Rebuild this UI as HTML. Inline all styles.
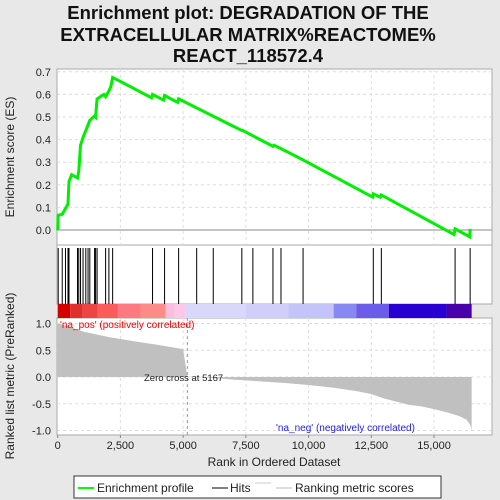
<!DOCTYPE html>
<html><head><meta charset="utf-8">
<style>
body{margin:0;background:#e8e8e8;font-family:"Liberation Sans",sans-serif;}
svg{display:block}
</style></head><body>
<svg width="500" height="500" viewBox="0 0 500 500">
<rect x="0" y="0" width="500" height="500" fill="#e8e8e8"/>
<g font-weight="bold" font-size="18.5" text-anchor="middle" fill="#111">
<text x="248" y="19">Enrichment plot: DEGRADATION OF THE</text>
<text x="248" y="41">EXTRACELLULAR MATRIX%REACTOME%</text>
<text x="248" y="62">REACT_118572.4</text>
</g>
<rect x="57" y="69" width="435" height="176" fill="#fff" stroke="#aaa"/>
<rect x="57" y="245" width="435" height="59" fill="#fff" stroke="#aaa"/>
<rect x="57" y="318" width="435" height="117" fill="#fff" stroke="#aaa"/>
<g id="grid"></g>
<g id="cbar"></g>
<g id="metric"></g>
<g id="hits"></g>
<g id="es"></g>
<g id="axes" font-size="11" fill="#222"></g>
<text x="14" y="157" transform="rotate(-90 14 157)" text-anchor="middle" font-size="12" fill="#222">Enrichment score (ES)</text>
<text x="14" y="376" transform="rotate(-90 14 376)" text-anchor="middle" font-size="12" fill="#222">Ranked list metric (PreRanked)</text>
<text x="274" y="466" text-anchor="middle" font-size="12" fill="#222">Rank in Ordered Dataset</text>
<text x="60" y="328" font-size="10" fill="#e00">'na_pos' (positively correlated)</text>
<text x="276" y="431" font-size="10" fill="#22d">'na_neg' (negatively correlated)</text>
<text x="144" y="381" font-size="9.5" fill="#222">Zero cross at 5167</text>
<g>
<rect x="74" y="476" width="367" height="22" fill="#fff" stroke="#333"/>
<line x1="78" y1="488" x2="94" y2="488" stroke="#0f0" stroke-width="2"/>
<text x="97" y="492" font-size="12" fill="#222">Enrichment profile</text>
<line x1="212" y1="488" x2="228" y2="488" stroke="#000"/>
<text x="230" y="492" font-size="12" fill="#222">Hits</text>
<line x1="255" y1="483" x2="271" y2="483" stroke="#ccc"/>
<line x1="276" y1="488" x2="292" y2="488" stroke="#bbb"/>
<text x="295" y="492" font-size="12" fill="#222">Ranking metric scores</text>
</g>
</svg>
<script>
const hitRanks=[20,180,310,410,450,790,840,910,1010,1120,1210,1280,1470,1510,1570,1910,2040,2190,3780,4260,4820,5540,6200,7340,7780,8580,8900,9780,12580,12900,15840,16440];
const esRanks=[0,20,180,310,410,450,560,790,840,910,1010,1120,1210,1280,1470,1510,1570,1840,1910,2040,2120,2190,3740,3780,4220,4260,4780,4820,7340,7380,8580,8620,8900,9780,12560,12580,12860,12900,15800,15840,16420,16440];
const esValues=[0,0.065,0.07,0.095,0.115,0.215,0.245,0.23,0.26,0.375,0.41,0.44,0.465,0.485,0.505,0.5,0.58,0.6,0.59,0.615,0.635,0.675,0.585,0.6,0.575,0.595,0.565,0.58,0.44,0.44,0.37,0.375,0.36,0.31,0.145,0.16,0.145,0.155,-0.02,0.005,-0.03,0.005];
const metricRanks=[0,400,1000,2000,3000,4000,5000,5167,6000,7000,8000,9000,10000,11000,12000,12500,13000,14000,14500,15000,15500,16000,16300,16450,16500];
const metricValues=[1.0,0.95,0.85,0.75,0.67,0.6,0.52,0.0,-0.01,-0.05,-0.08,-0.11,-0.15,-0.2,-0.27,-0.32,-0.4,-0.52,-0.55,-0.6,-0.66,-0.73,-0.8,-0.9,-1.0];
const esTicks=[0,0.1,0.2,0.3,0.4,0.5,0.6,0.7];
const metricTicks=[-1.0,-0.5,0.0,0.5,1.0];
const xTicks=[0,2500,5000,7500,10000,12500,15000];
const xTickLabels=["0","2,500","5,000","7,500","10,000","12,500","15,000"];
const barRanks=[0,500,1000,1600,2400,3300,4300,4650,5100,7500,9200,11000,11900,13200,15500,16500];
const barColors=["#d40000","#e0302e","#eb4545","#fa5c5c","#fe7a80","#fd8c88","#fdbedd","#fdc8e8","#d8d8fa","#cfcffa","#c4c4f8","#8888f5","#6c5ceb","#2800d0","#4a00a8"];
const X=r=>57.7+r*0.025088;
const YE=v=>230-v*226;
const YM=v=>377-v*53.5;
const NS="http://www.w3.org/2000/svg";
function mk(parent,tag,attrs){const e=document.createElementNS(NS,tag);for(const k in attrs)e.setAttribute(k,attrs[k]);document.getElementById(parent).appendChild(e);return e;}
xTicks.forEach(t=>{if(t===0)return;
 let g=mk('grid','line',{x1:X(t),x2:X(t),y1:69,y2:245,stroke:'#ddd','stroke-dasharray':'3,3'});
 
 
 let g2=mk('grid','line',{x1:X(t),x2:X(t),y1:318,y2:435,stroke:'#ddd','stroke-dasharray':'3,3'});
 
 });
esTicks.forEach(t=>{let g=mk('grid','line',{x1:57,x2:492,y1:YE(t),y2:YE(t),stroke:t===0?'#888':'#ddd','stroke-dasharray':t===0?'':'3,3'});
 
 
 let l=mk('axes','text',{x:51,y:YE(t)+4,'text-anchor':'end'});l.textContent=t.toFixed(1);
 
 });
metricTicks.forEach(t=>{let g=mk('grid','line',{x1:57,x2:492,y1:YM(t),y2:YM(t),stroke:'#ddd','stroke-dasharray':'3,3'});
 
 
 let l=mk('axes','text',{x:51,y:YM(t)+4,'text-anchor':'end'});l.textContent=t.toFixed(1);
 
 });
xTicks.forEach((t,i)=>{let l=mk('axes','text',{x:X(t),y:449,'text-anchor':'middle'});l.textContent=xTickLabels[i];
 
 
 let tk=mk('axes','line',{x1:X(t),x2:X(t),y1:435,y2:438,stroke:'#888'});
 
 });
for(let i=0;i<barColors.length;i++){let r=mk('cbar','rect',{x:X(barRanks[i]),y:304,width:X(barRanks[i+1])-X(barRanks[i]),height:14,fill:barColors[i]});
 
 }
let d='M'+X(0)+','+YM(0);
for(let i=0;i<metricRanks.length;i++){d+=' L'+X(metricRanks[i])+','+YM(metricValues[i]);}
d+=' L'+X(metricRanks[metricRanks.length-1])+','+YM(0)+' Z';
let ma=mk('metric','path',{d:d,fill:'#c0c0c0'});


let zc=mk('metric','line',{x1:X(5167),x2:X(5167),y1:318,y2:435,stroke:'#999','stroke-dasharray':'3,3'});


hitRanks.forEach(r=>{let l=mk('hits','line',{x1:X(r),x2:X(r),y1:248,y2:304,stroke:'#000','stroke-width':1});
 
 });
let pts=esRanks.map((r,i)=>X(r)+','+YE(esValues[i])).join(' ');
let pl=mk('es','polyline',{points:pts,fill:'none',stroke:'#00ee00','stroke-width':3});


</script>
</body></html>
